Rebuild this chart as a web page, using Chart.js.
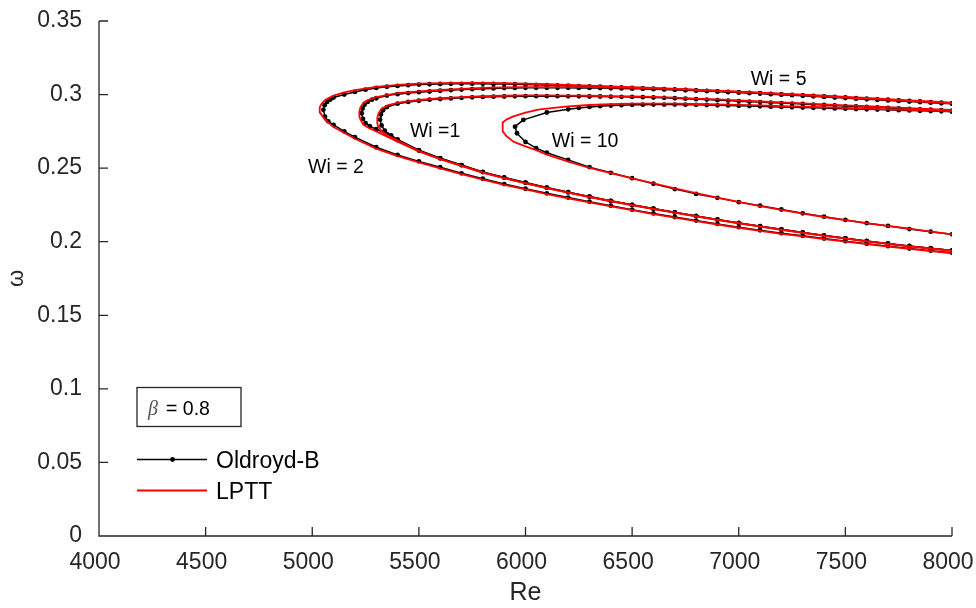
<!DOCTYPE html>
<html>
<head>
<meta charset="utf-8">
<title>Neutral curves</title>
<script src="https://cdn.jsdelivr.net/npm/chart.js@4.4.1/dist/chart.umd.min.js"></script>
<style>
  html, body { margin: 0; padding: 0; background: #fff; }
  #wrap { width: 976px; height: 608px; }
</style>
</head>
<body>
<div id="wrap"><canvas id="chart" width="976" height="608"></canvas></div>
<script>
// Neutral stability curves omega(Re) for beta = 0.8.
// Each curve runs along the lower branch from Re = 8000 to the nose, then back out along the upper branch.

const xTicks = [4000, 4500, 5000, 5500, 6000, 6500, 7000, 7500, 8000];
const xTickLabels = ['4000', '4500', '5000', '5500', '6000', '6500', '7000', '7500', '8000'];
const yTicks = [0, 0.05, 0.1, 0.15, 0.2, 0.25, 0.3, 0.35];
const yTickLabels = ['0', '0.05', '0.1', '0.15', '0.2', '0.25', '0.3', '0.35'];

// Oldroyd-B, Wi = 2
const ob2Re = [8000, 7900, 7800, 7700, 7600, 7500, 7400, 7300, 7200, 7100, 7000, 6900, 6800, 6700, 6600, 6500, 6400, 6300, 6200, 6100,
  6000, 5900, 5800, 5700, 5600, 5500, 5400, 5300, 5200, 5150, 5100, 5075, 5060,
  5052,
  5058, 5070, 5085, 5100, 5150, 5200, 5250, 5300, 5350, 5400, 5450, 5500, 5550, 5600, 5650, 5700, 5750, 5800, 5850, 5900, 5950,
  6000, 6050, 6100, 6150, 6200, 6250, 6300, 6350, 6400, 6450, 6500, 6550, 6600, 6650, 6700, 6750, 6800, 6850, 6900, 6950,
  7000, 7050, 7100, 7150, 7200, 7250, 7300, 7350, 7400, 7450, 7500, 7550, 7600, 7650, 7700, 7750, 7800, 7850, 7900, 7950, 8000];
const ob2W = [0.1925, 0.1939, 0.1954, 0.1970, 0.1986, 0.2004, 0.2022, 0.2040, 0.2058, 0.2078, 0.2099, 0.2121, 0.2144, 0.2168, 0.2192, 0.2218, 0.2245, 0.2272, 0.2300, 0.2329,
  0.2360, 0.2392, 0.2428, 0.2465, 0.2506, 0.2546, 0.2590, 0.2642, 0.2711, 0.2750, 0.2794, 0.2818, 0.2850,
  0.2896,
  0.2928, 0.2950, 0.2966, 0.2980, 0.3000, 0.3018, 0.3033, 0.3045, 0.3053, 0.3059, 0.3064, 0.3068, 0.3070, 0.3072, 0.3073, 0.3073, 0.3074, 0.3073, 0.3072, 0.3071, 0.3070,
  0.3068, 0.3066, 0.3064, 0.3062, 0.3060, 0.3058, 0.3055, 0.3053, 0.3050, 0.3048, 0.3045, 0.3042, 0.3040, 0.3037, 0.3034, 0.3031, 0.3028, 0.3025, 0.3022, 0.3018,
  0.3015, 0.3012, 0.3009, 0.3005, 0.3002, 0.2998, 0.2995, 0.2991, 0.2988, 0.2984, 0.2980, 0.2976, 0.2972, 0.2968, 0.2965, 0.2961, 0.2957, 0.2953, 0.2949, 0.2945, 0.2941];

// Oldroyd-B, Wi = 5
const ob5Re = [8000, 7900, 7800, 7700, 7600, 7500, 7400, 7300, 7200, 7100, 7000, 6900, 6800, 6700, 6600, 6500, 6400, 6300, 6200, 6100,
  6000, 5900, 5800, 5700, 5600, 5500, 5400, 5350, 5300, 5270, 5250, 5238,
  5232,
  5236, 5245, 5260, 5280, 5300, 5350, 5400, 5450, 5500, 5550, 5600, 5650, 5700, 5750, 5800, 5850, 5900, 5950,
  6000, 6050, 6100, 6150, 6200, 6250, 6300, 6350, 6400, 6450, 6500, 6550, 6600, 6650, 6700, 6750, 6800, 6850, 6900, 6950,
  7000, 7050, 7100, 7150, 7200, 7250, 7300, 7350, 7400, 7450, 7500, 7550, 7600, 7650, 7700, 7750, 7800, 7850, 7900, 7950, 8000];
const ob5W = [0.1940, 0.1955, 0.1970, 0.1987, 0.2004, 0.2023, 0.2042, 0.2062, 0.2083, 0.2105, 0.2127, 0.2150, 0.2174, 0.2199, 0.2224, 0.2250, 0.2277, 0.2306, 0.2336, 0.2367,
  0.2401, 0.2436, 0.2473, 0.2520, 0.2567, 0.2620, 0.2690, 0.2730, 0.2765, 0.2785, 0.2805, 0.2835,
  0.2873,
  0.2905, 0.2930, 0.2950, 0.2965, 0.2975, 0.2993, 0.3003, 0.3010, 0.3016, 0.3021, 0.3026, 0.3030, 0.3034, 0.3037, 0.3040, 0.3042, 0.3044, 0.3045,
  0.3046, 0.3046, 0.3046, 0.3046, 0.3046, 0.3045, 0.3045, 0.3044, 0.3043, 0.3042, 0.3040, 0.3039, 0.3037, 0.3035, 0.3033, 0.3030, 0.3027, 0.3024, 0.3021, 0.3017,
  0.3014, 0.3010, 0.3007, 0.3003, 0.2999, 0.2996, 0.2992, 0.2988, 0.2984, 0.2980, 0.2976, 0.2972, 0.2968, 0.2964, 0.2960, 0.2957, 0.2953, 0.2949, 0.2945, 0.2941, 0.2937];

// Oldroyd-B, Wi = 1
const ob1Re = [8000, 7900, 7800, 7700, 7600, 7500, 7400, 7300, 7200, 7100, 7000, 6900, 6800, 6700, 6600, 6500, 6400, 6300, 6200, 6100,
  6000, 5900, 5800, 5700, 5600, 5500, 5400, 5370, 5340, 5325,
  5318,
  5322, 5332, 5350, 5400, 5450, 5500, 5550, 5600, 5650, 5700, 5750, 5800, 5850, 5900, 5950,
  6000, 6050, 6100, 6150, 6200, 6250, 6300, 6350, 6400, 6450, 6500, 6550, 6600, 6650, 6700, 6750, 6800, 6850, 6900, 6950,
  7000, 7050, 7100, 7150, 7200, 7250, 7300, 7350, 7400, 7450, 7500, 7550, 7600, 7650, 7700, 7750, 7800, 7850, 7900, 7950, 8000];
const ob1W = [0.1941, 0.1956, 0.1971, 0.1988, 0.2005, 0.2024, 0.2043, 0.2063, 0.2084, 0.2106, 0.2128, 0.2151, 0.2175, 0.2200, 0.2225, 0.2251, 0.2278, 0.2307, 0.2337, 0.2368,
  0.2402, 0.2437, 0.2474, 0.2521, 0.2568, 0.2622, 0.2695, 0.2722, 0.2755, 0.2790,
  0.2830,
  0.2865, 0.2893, 0.2915, 0.2938, 0.2950, 0.2958, 0.2965, 0.2970, 0.2974, 0.2978, 0.2981, 0.2984, 0.2986, 0.2987, 0.2988,
  0.2989, 0.2989, 0.2989, 0.2989, 0.2988, 0.2988, 0.2987, 0.2987, 0.2986, 0.2985, 0.2984, 0.2982, 0.2980, 0.2978, 0.2975, 0.2972, 0.2969, 0.2966, 0.2962, 0.2959,
  0.2955, 0.2952, 0.2949, 0.2945, 0.2942, 0.2939, 0.2936, 0.2932, 0.2929, 0.2926, 0.2922, 0.2919, 0.2916, 0.2913, 0.2910, 0.2906, 0.2903, 0.2900, 0.2897, 0.2894, 0.2891];

// Oldroyd-B, Wi = 10
const ob10Re = [8000, 7900, 7800, 7700, 7600, 7500, 7400, 7300, 7200, 7100, 7000, 6900, 6800, 6700, 6600, 6500, 6400, 6300, 6200, 6100,
  6050, 6000, 5960,
  5951,
  5990, 6100, 6200, 6250, 6300, 6350, 6400, 6450, 6500, 6550, 6600, 6650, 6700, 6750, 6800, 6850, 6900, 6950,
  7000, 7050, 7100, 7150, 7200, 7250, 7300, 7350, 7400, 7450, 7500, 7550, 7600, 7650, 7700, 7750, 7800, 7850, 7900, 7950, 8000];
const ob10W = [0.2050, 0.2068, 0.2086, 0.2107, 0.2126, 0.2148, 0.2170, 0.2193, 0.2219, 0.2245, 0.2269, 0.2298, 0.2325, 0.2358, 0.2394, 0.2432, 0.2468, 0.2507, 0.2556, 0.2605,
  0.2636, 0.2678, 0.2737,
  0.2782,
  0.2828, 0.2878, 0.2900, 0.2909, 0.2916, 0.2921, 0.2925, 0.2928, 0.2930, 0.2931, 0.2932, 0.2932, 0.2932, 0.2931, 0.2930, 0.2929, 0.2927, 0.2926,
  0.2924, 0.2922, 0.2920, 0.2918, 0.2916, 0.2914, 0.2912, 0.2910, 0.2908, 0.2906, 0.2904, 0.2902, 0.2900, 0.2898, 0.2896, 0.2894, 0.2892, 0.2890, 0.2888, 0.2886, 0.2884];

// LPTT, Wi = 2
const pt2Re = [8000, 7900, 7800, 7700, 7600, 7500, 7400, 7300, 7200, 7100, 7000, 6900, 6800, 6700, 6600, 6500, 6400, 6300, 6200, 6100,
  6000, 5900, 5800, 5700, 5600, 5500, 5400, 5300, 5200, 5100, 5060, 5045, 5036,
  5034,
  5036, 5045, 5060, 5100, 5150, 5200, 5300, 5400, 5500, 5600, 5700, 5800, 5900,
  6000, 6100, 6200, 6300, 6400, 6500, 6600, 6700, 6800, 6900, 7000, 7100, 7200, 7300, 7400, 7500, 7600, 7700, 7800, 7900, 8000];
const pt2W = [0.1921, 0.1936, 0.1951, 0.1967, 0.1983, 0.2000, 0.2018, 0.2036, 0.2054, 0.2074, 0.2095, 0.2117, 0.2140, 0.2164, 0.2188, 0.2214, 0.2240, 0.2267, 0.2295, 0.2324,
  0.2355, 0.2387, 0.2422, 0.2459, 0.2499, 0.2539, 0.2582, 0.2633, 0.2700, 0.2780, 0.2828, 0.2860, 0.2877,
  0.2896,
  0.2915, 0.2940, 0.2962, 0.2993, 0.3015, 0.3030, 0.3052, 0.3066, 0.3074, 0.3078, 0.3079, 0.3079, 0.3077,
  0.3074, 0.3070, 0.3066, 0.3061, 0.3056, 0.3051, 0.3045, 0.3039, 0.3033, 0.3027, 0.3020, 0.3013, 0.3006, 0.2999, 0.2992, 0.2985, 0.2977, 0.2969, 0.2961, 0.2953, 0.2945];

// LPTT, Wi = 5
const pt5Re = [8000, 7900, 7800, 7700, 7600, 7500, 7400, 7300, 7200, 7100, 7000, 6900, 6800, 6700, 6600, 6500, 6400, 6300, 6200, 6100,
  6000, 5900, 5800, 5700, 5600, 5500, 5400, 5300, 5270, 5240, 5226, 5221,
  5221, 5226, 5240, 5270, 5300, 5400, 5500, 5600, 5700, 5800, 5900,
  6000, 6100, 6200, 6300, 6400, 6500, 6600, 6700, 6800, 6900, 7000, 7100, 7200, 7300, 7400, 7500, 7600, 7700, 7800, 7900, 8000];
const pt5W = [0.1938, 0.1953, 0.1968, 0.1985, 0.2002, 0.2021, 0.2040, 0.2060, 0.2081, 0.2103, 0.2125, 0.2148, 0.2172, 0.2197, 0.2222, 0.2248, 0.2275, 0.2303, 0.2333, 0.2364,
  0.2397, 0.2432, 0.2469, 0.2515, 0.2561, 0.2613, 0.2680, 0.2750, 0.2770, 0.2795, 0.2830, 0.2852,
  0.2884, 0.2912, 0.2945, 0.2968, 0.2982, 0.3010, 0.3022, 0.3031, 0.3039, 0.3045, 0.3049,
  0.3051, 0.3051, 0.3051, 0.3050, 0.3048, 0.3045, 0.3042, 0.3038, 0.3032, 0.3025, 0.3018, 0.3011, 0.3003, 0.2996, 0.2988, 0.2980, 0.2972, 0.2964, 0.2956, 0.2948, 0.2940];

// LPTT, Wi = 1
const pt1Re = [8000, 7900, 7800, 7700, 7600, 7500, 7400, 7300, 7200, 7100, 7000, 6900, 6800, 6700, 6600, 6500, 6400, 6300, 6200, 6100,
  6000, 5900, 5800, 5700, 5600, 5500, 5400, 5350, 5325, 5309, 5305,
  5305, 5310, 5325, 5360, 5420, 5500, 5600, 5700, 5800, 5900,
  6000, 6100, 6200, 6300, 6400, 6500, 6600, 6700, 6800, 6900, 7000, 7100, 7200, 7300, 7400, 7500, 7600, 7700, 7800, 7900, 8000];
const pt1W = [0.1939, 0.1954, 0.1969, 0.1986, 0.2003, 0.2022, 0.2041, 0.2061, 0.2082, 0.2104, 0.2126, 0.2149, 0.2173, 0.2198, 0.2223, 0.2249, 0.2276, 0.2304, 0.2334, 0.2365,
  0.2398, 0.2433, 0.2470, 0.2516, 0.2562, 0.2616, 0.2688, 0.2725, 0.2752, 0.2785, 0.2805,
  0.2839, 0.2870, 0.2905, 0.2930, 0.2948, 0.2963, 0.2975, 0.2983, 0.2989, 0.2992,
  0.2994, 0.2994, 0.2993, 0.2992, 0.2990, 0.2988, 0.2984, 0.2979, 0.2973, 0.2967, 0.2960, 0.2953, 0.2947, 0.2940, 0.2934, 0.2927, 0.2921, 0.2914, 0.2908, 0.2901, 0.2895];

// LPTT, Wi = 10
const pt10Re = [8000, 7900, 7800, 7700, 7600, 7500, 7400, 7300, 7200, 7100, 7000, 6900, 6800, 6700, 6600, 6500, 6400,
  6300, 6200, 6100, 6050, 6000, 5943, 5910, 5893,
  5893, 5910, 5943, 6000, 6060, 6100, 6200, 6300, 6400, 6500, 6600, 6700, 6800, 6900,
  7000, 7100, 7200, 7300, 7400, 7500, 7600, 7700, 7800, 7900, 8000];
const pt10W = [0.2050, 0.2069, 0.2089, 0.2108, 0.2127, 0.2147, 0.2168, 0.2191, 0.2216, 0.2242, 0.2270, 0.2300, 0.2331, 0.2363, 0.2396, 0.2431, 0.2466,
  0.2501, 0.2545, 0.2592, 0.2622, 0.2648, 0.2680, 0.2718, 0.2750,
  0.2810, 0.2830, 0.2852, 0.2878, 0.2898, 0.2905, 0.2920, 0.2929, 0.2935, 0.2938, 0.2939, 0.2938, 0.2936, 0.2933,
  0.2930, 0.2926, 0.2922, 0.2918, 0.2914, 0.2910, 0.2905, 0.2900, 0.2896, 0.2891, 0.2887];

// curve labels: text, left edge (Re) and baseline (omega)
const wiText = ['Wi = 2', 'Wi =1', 'Wi = 10', 'Wi = 5'];
const wiTextRe = [4980, 5458, 6123, 7056];
const wiTextW = [0.2465, 0.2714, 0.2646, 0.3066];

const FONT = '"Liberation Sans", Arial, Helvetica, sans-serif';
const AXIS = '#262626';

const pts = (re, w) => re.map((x, i) => ({ x: x, y: w[i] }));

function oldroyd(re, w) {
  return {
    data: pts(re, w), showLine: true, order: 1,
    borderColor: '#000', borderWidth: 1.5, borderJoinStyle: 'round',
    pointRadius: 2.4, pointBackgroundColor: '#000', pointBorderWidth: 0, pointHoverRadius: 2.4,
  };
}
function lptt(re, w) {
  return {
    data: pts(re, w), showLine: true, order: 0,
    borderColor: '#ff0000', borderWidth: 1.8, borderJoinStyle: 'round',
    pointRadius: 0, pointHoverRadius: 0,
  };
}

// pin the plot box: no automatic room for overhanging tick labels
function noOverhang(s) {
  s.paddingLeft = 0; s.paddingRight = 0; s.paddingTop = 0; s.paddingBottom = 0;
}

// axis lines with inward ticks, curve labels and the hand-placed legend
const decorations = {
  id: 'decorations',
  afterDraw(chart) {
    const ctx = chart.ctx, a = chart.chartArea, xs = chart.scales.x, ys = chart.scales.y;
    ctx.save();
    ctx.strokeStyle = AXIS;
    ctx.lineWidth = 1.3;
    ctx.beginPath();
    ctx.moveTo(a.left, a.top);
    ctx.lineTo(a.left, a.bottom);
    ctx.lineTo(a.right, a.bottom);
    xTicks.forEach((v) => {
      const px = xs.getPixelForValue(v);
      ctx.moveTo(px, a.bottom);
      ctx.lineTo(px, a.bottom - 9);
    });
    yTicks.forEach((v) => {
      const py = ys.getPixelForValue(v);
      ctx.moveTo(a.left, py);
      ctx.lineTo(a.left + 9, py);
    });
    ctx.stroke();

    ctx.fillStyle = '#000';
    ctx.font = '19.5px ' + FONT;
    ctx.textAlign = 'left';
    ctx.textBaseline = 'alphabetic';
    wiText.forEach((t, i) => {
      ctx.fillText(t, xs.getPixelForValue(wiTextRe[i]), ys.getPixelForValue(wiTextW[i]));
    });

    // beta box
    ctx.lineWidth = 1.3;
    ctx.strokeStyle = AXIS;
    ctx.strokeRect(137, 387.5, 104, 39);
    ctx.fillStyle = '#555';
    ctx.font = 'italic 20px "Liberation Serif", "DejaVu Serif", serif';
    ctx.fillText('\u03b2', 148, 415);
    ctx.fillStyle = '#000';
    ctx.font = '19.5px ' + FONT;
    ctx.fillText('= 0.8', 166, 415);

    // legend entries
    ctx.lineWidth = 1.5;
    ctx.strokeStyle = '#000';
    ctx.beginPath();
    ctx.moveTo(137, 459.5);
    ctx.lineTo(207, 459.5);
    ctx.stroke();
    ctx.beginPath();
    ctx.arc(172.5, 459.5, 2.4, 0, Math.PI * 2);
    ctx.fill();
    ctx.lineWidth = 1.8;
    ctx.strokeStyle = '#ff0000';
    ctx.beginPath();
    ctx.moveTo(137, 490.5);
    ctx.lineTo(207, 490.5);
    ctx.stroke();
    ctx.font = '23px ' + FONT;
    ctx.fillText('Oldroyd-B', 216, 467.5);
    ctx.fillText('LPTT', 216, 499);
    ctx.restore();
  },
};

new Chart(document.getElementById('chart'), {
  type: 'scatter',
  data: {
    datasets: [
      oldroyd(ob2Re, ob2W), oldroyd(ob5Re, ob5W), oldroyd(ob1Re, ob1W), oldroyd(ob10Re, ob10W),
      lptt(pt2Re, pt2W), lptt(pt5Re, pt5W), lptt(pt1Re, pt1W), lptt(pt10Re, pt10W),
    ],
  },
  options: {
    responsive: false,
    animation: false,
    devicePixelRatio: 1,
    layout: { padding: { top: 21, right: 24, left: 0, bottom: 0 } },
    plugins: { legend: { display: false }, tooltip: { enabled: false } },
    elements: { line: { tension: 0 } },
    scales: {
      x: {
        type: 'linear', min: 4000, max: 8000,
        afterBuildTicks: (s) => { s.ticks = xTicks.map((v) => ({ value: v })); },
        afterFit: (s) => { s.height = 72; noOverhang(s); },
        grid: { display: false, drawTicks: false },
        border: { display: false },
        ticks: {
          color: AXIS, font: { family: FONT, size: 23 }, padding: 13, labelOffset: -4,
          maxRotation: 0, autoSkip: false,
          callback: (v, i) => xTickLabels[i],
        },
        title: { display: true, text: 'Re', color: AXIS, font: { family: FONT, size: 25 }, padding: { top: 0, bottom: 0 } },
      },
      y: {
        type: 'linear', min: 0, max: 0.35,
        afterBuildTicks: (s) => { s.ticks = yTicks.map((v) => ({ value: v })); },
        afterFit: (s) => { s.width = 99; noOverhang(s); },
        grid: { display: false, drawTicks: false },
        border: { display: false },
        ticks: {
          color: AXIS, font: { family: FONT, size: 23 }, padding: 17,
          autoSkip: false,
          callback: (v, i) => yTickLabels[i],
        },
        title: { display: true, text: '\u03c9', color: AXIS, font: { family: FONT, size: 22 }, padding: { top: 4, bottom: 0 } },
      },
    },
  },
  plugins: [decorations],
});
</script>
</body>
</html>
